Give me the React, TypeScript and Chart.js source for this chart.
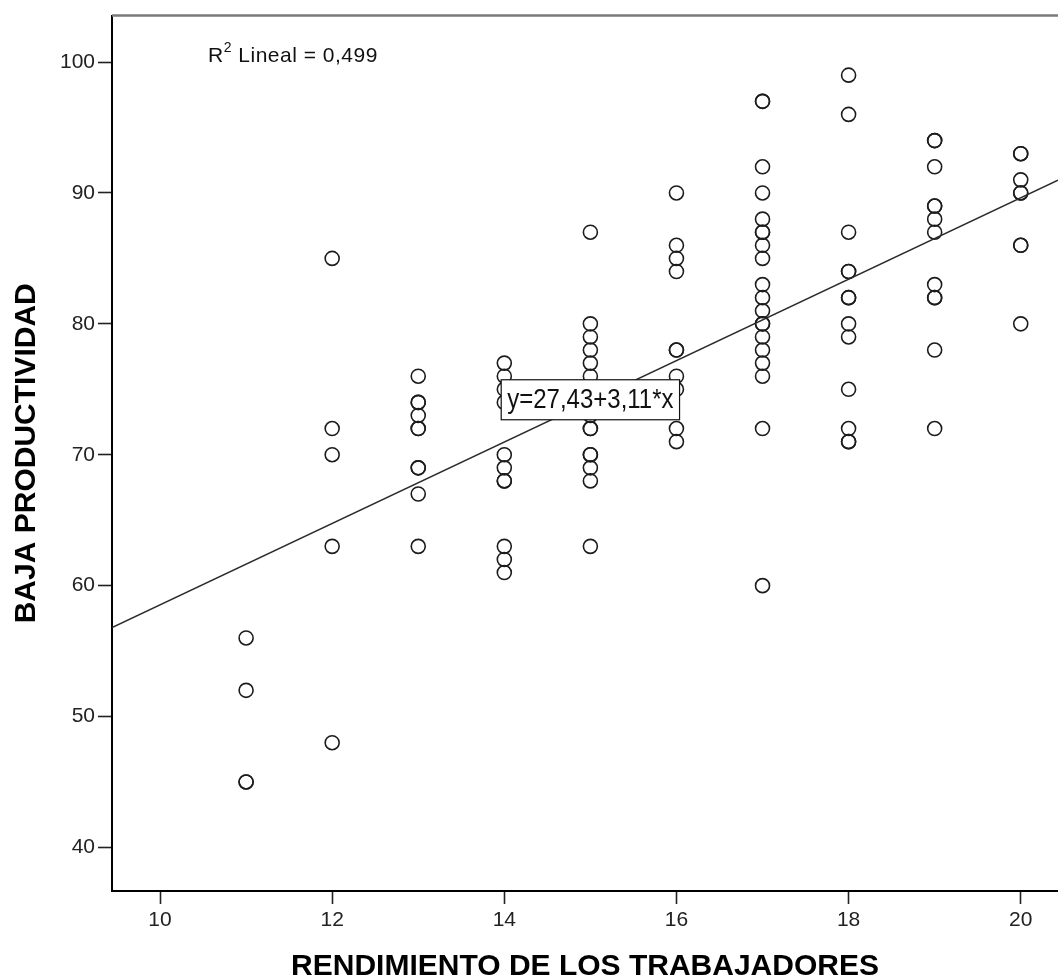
import React, { useEffect, useRef } from 'react';
import { Chart, registerables } from 'chart.js';

Chart.register(...registerables);

// ---- Data ----
const X_LEVELS = [11, 12, 13, 14, 15, 16, 17, 18, 19, 20];
const Y_AT_11 = [56, 52, 45, 45];
const Y_AT_12 = [85, 72, 70, 63, 48];
const Y_AT_13 = [76, 74, 74, 73, 72, 72, 69, 69, 67, 63];
const Y_AT_14 = [77, 76, 75, 74, 70, 69, 68, 68, 63, 62, 61];
const Y_AT_15 = [87, 80, 79, 78, 77, 76, 75, 74, 73, 72, 72, 70, 70, 69, 68, 63];
const Y_AT_16 = [90, 86, 85, 84, 78, 78, 76, 75, 72, 71];
const Y_AT_17 = [97, 97, 92, 90, 88, 87, 87, 86, 85, 83, 82, 81, 80, 80, 79, 78, 77, 76, 72, 60];
const Y_AT_18 = [99, 96, 87, 84, 84, 82, 82, 80, 79, 75, 72, 71, 71];
const Y_AT_19 = [94, 94, 92, 89, 89, 88, 87, 83, 82, 82, 78, 72];
const Y_AT_20 = [93, 93, 91, 90, 90, 86, 86, 80];
const Y_GROUPS = [Y_AT_11, Y_AT_12, Y_AT_13, Y_AT_14, Y_AT_15, Y_AT_16, Y_AT_17, Y_AT_18, Y_AT_19, Y_AT_20];

const X_TICKS = [10, 12, 14, 16, 18, 20];
const Y_TICKS = [40, 50, 60, 70, 80, 90, 100];
const X_RANGE = [9.442, 20.433];
const Y_RANGE = [36.67, 103.55];

const FIT_INTERCEPT = 27.43;
const FIT_SLOPE = 3.11;
const R2_TEXT = ' Lineal = 0,499';
const EQ_LABEL = 'y=27,43+3,11*x';
const EQ_ANCHOR = [15.0, 74.2];

const X_TITLE = 'RENDIMIENTO DE LOS TRABAJADORES';
const Y_TITLE = 'BAJA PRODUCTIVIDAD';

const FONT = '"Liberation Sans", Arial, sans-serif';

const annotationPlugin = {
  id: 'spssAnnotations',
  afterDraw(chart: any) {
    const { ctx, chartArea, scales } = chart;
    ctx.save();
    // top frame line
    ctx.strokeStyle = '#7a7a7a';
    ctx.lineWidth = 2.5;
    ctx.beginPath();
    ctx.moveTo(chartArea.left, chartArea.top);
    ctx.lineTo(chartArea.right, chartArea.top);
    ctx.stroke();

    // R² label
    ctx.fillStyle = '#111';
    ctx.textBaseline = 'alphabetic';
    ctx.textAlign = 'left';
    try { (ctx as any).letterSpacing = '0.5px'; } catch (e) { /* ignore */ }
    let x = chartArea.left + 96;
    const base = chartArea.top + 46;
    ctx.font = `21px ${FONT}`;
    ctx.fillText('R', x, base);
    x += ctx.measureText('R').width;
    ctx.font = `14px ${FONT}`;
    ctx.fillText('2', x, base - 10);
    x += ctx.measureText('2').width;
    ctx.font = `21px ${FONT}`;
    ctx.fillText(R2_TEXT, x, base);
    try { (ctx as any).letterSpacing = '0px'; } catch (e) { /* ignore */ }

    // equation box
    const cx = scales.x.getPixelForValue(EQ_ANCHOR[0]);
    const cy = scales.y.getPixelForValue(EQ_ANCHOR[1]);
    ctx.font = `24px ${FONT}`;
    const w = ctx.measureText(EQ_LABEL).width + 12;
    const h = 40;
    ctx.fillStyle = '#fff';
    ctx.fillRect(cx - w / 2, cy - h / 2, w, h);
    ctx.strokeStyle = '#111';
    ctx.lineWidth = 1.2;
    ctx.strokeRect(cx - w / 2, cy - h / 2, w, h);
    ctx.fillStyle = '#111';
    ctx.textAlign = 'center';
    ctx.textBaseline = 'middle';
    ctx.translate(cx, cy + 1);
    ctx.scale(1, 1.12);
    ctx.fillText(EQ_LABEL, 0, 0);
    ctx.restore();
  },
};

export default function App() {
  const ref = useRef<HTMLCanvasElement | null>(null);

  useEffect(() => {
    const canvas = ref.current;
    if (!canvas) return;

    const points: { x: number; y: number }[] = [];
    X_LEVELS.forEach((xv, i) => {
      Y_GROUPS[i].forEach((yv) => points.push({ x: xv, y: yv }));
    });
    const fitLine = [X_RANGE[0], X_RANGE[1]].map((xv) => ({ x: xv, y: FIT_INTERCEPT + FIT_SLOPE * xv }));

    const chart = new Chart(canvas, {
      type: 'scatter',
      data: {
        datasets: [
          {
            type: 'line' as any,
            data: fitLine,
            borderColor: '#2a2a2a',
            borderWidth: 1.5,
            pointRadius: 0,
            showLine: true,
            fill: false,
          },
          {
            data: points,
            pointStyle: 'circle',
            pointRadius: 7,
            borderWidth: 1.6,
            borderColor: '#1c1c1c',
            backgroundColor: 'rgba(0,0,0,0)',
          },
        ],
      },
      options: {
        responsive: false,
        animation: false,
        events: [],
        layout: { autoPadding: false, padding: { top: 14, left: 0, right: 0, bottom: 0 } },
        plugins: {
          legend: { display: false },
          tooltip: { enabled: false },
        },
        scales: {
          x: {
            type: 'linear',
            position: 'bottom',
            min: X_RANGE[0],
            max: X_RANGE[1],
            afterBuildTicks: (s: any) => {
              s.ticks = X_TICKS.map((v) => ({ value: v }));
            },
            afterFit: (s: any) => {
              s.height = 89;
            },
            grid: { drawOnChartArea: false, drawTicks: true, tickLength: 13, tickColor: '#222', tickWidth: 1.6 },
            border: { display: true, color: '#000', width: 2 },
            ticks: {
              font: { family: FONT, size: 21 },
              color: '#222',
              padding: 4,
              maxRotation: 0,
              autoSkip: false,
              callback: (v: any) => String(v),
            },
            title: {
              display: true,
              text: X_TITLE,
              color: '#000',
              font: { family: FONT, size: 30, weight: 'bold', lineHeight: 0.9 },
              padding: { top: 0, bottom: 0 },
            },
          },
          y: {
            type: 'linear',
            position: 'left',
            min: Y_RANGE[0],
            max: Y_RANGE[1],
            afterBuildTicks: (s: any) => {
              s.ticks = Y_TICKS.map((v) => ({ value: v }));
            },
            afterFit: (s: any) => {
              s.width = 112;
            },
            grid: { drawOnChartArea: false, drawTicks: true, tickLength: 14, tickColor: '#222', tickWidth: 1.6 },
            border: { display: true, color: '#000', width: 2 },
            ticks: {
              font: { family: FONT, size: 21 },
              color: '#222',
              padding: 3,
              autoSkip: false,
              callback: (v: any) => String(v),
            },
            title: {
              display: true,
              text: Y_TITLE,
              color: '#000',
              font: { family: FONT, size: 30, weight: 'bold', lineHeight: 1 },
              padding: { top: 12, bottom: 0 },
            },
          },
        },
      },
      plugins: [annotationPlugin],
    });

    return () => chart.destroy();
  }, []);

  return (
    <div style={{ position: 'fixed', left: 0, top: 0, width: 1058, height: 980, background: '#fff' }}>
      <canvas ref={ref} width={1058} height={980} style={{ display: 'block', width: 1058, height: 980 }} />
    </div>
  );
}
